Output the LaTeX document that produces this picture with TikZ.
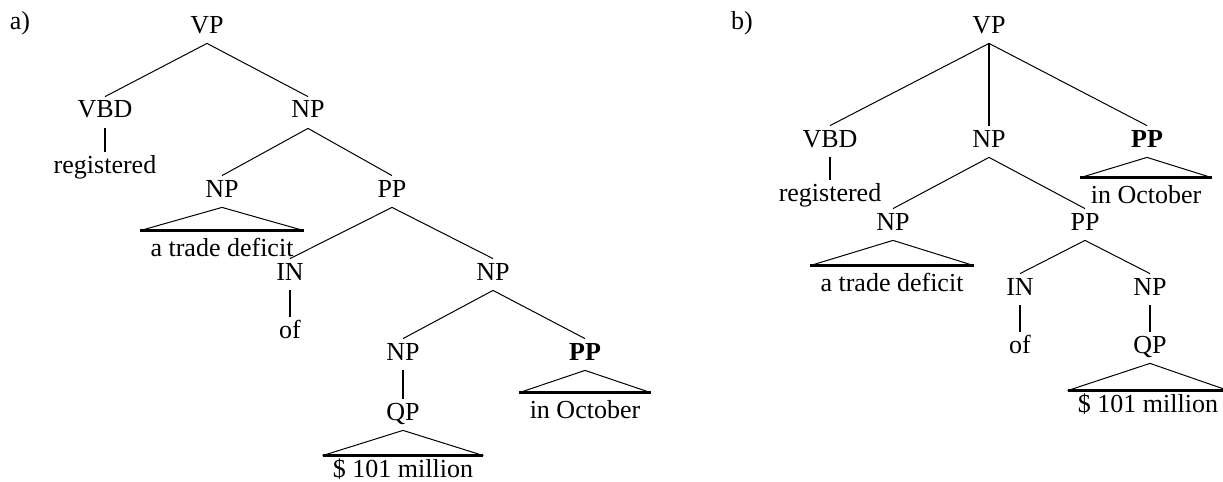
\documentclass[tikz,border=0pt]{standalone}
\usepackage{fontspec}
\setmainfont{Liberation Serif}
\begin{document}
\begin{tikzpicture}[x=0.5pt,y=-0.5pt,
  lbl/.style={font=\fontsize{13pt}{15pt}\selectfont, inner xsep=0pt, inner ysep=1.5pt,
              text height=9pt, text depth=3.5pt, anchor=base},
  leaf/.style={lbl, inner xsep=5pt, inner ysep=3.5pt},
  thinl/.style={line width=0.5pt},
  thickl/.style={line width=1.2pt}]
\useasboundingbox (0,0) rectangle (1223,482);
% ---------- tree a ----------
\node[lbl] (la) at (20,30) {a)};
\node[lbl] (avp) at (207,33) {VP};
\node[lbl] (avbd) at (105,118) {VBD};
\node[lbl] (anp) at (308,118) {NP};
\node[lbl] (areg) at (105,173) {registered};
\node[lbl] (anpb) at (222,197) {NP};
\node[lbl] (app) at (392,197) {PP};
\node[leaf] (atd) at (222,256) {a trade deficit};
\node[lbl] (ain) at (290,280) {IN};
\node[lbl] (anpc) at (493,280) {NP};
\node[lbl] (aof) at (290,338) {of};
\node[lbl] (anpd) at (403,360) {NP};
\node[lbl] (appb) at (585,360) {\textbf{PP}};
\node[lbl] (aqp) at (403,420) {QP};
\node[leaf] (aoct) at (585,418) {in October};
\node[leaf, inner ysep=1.5pt] (amil) at (403,477) {\$ 101 million};

\draw[thinl] (avp.south) -- (avbd.north);
\draw[thinl] (avp.south) -- (anp.north);
\draw[thickl] (avbd.south) -- (areg.north);
\draw[thinl] (anp.south) -- (anpb.north);
\draw[thinl] (anp.south) -- (app.north);
\draw[thinl] (atd.north west) -- (anpb.south) -- (atd.north east);
\draw[thickl] (atd.north west) -- (atd.north east);
\draw[thinl] (app.south) -- (ain.north);
\draw[thinl] (app.south) -- (anpc.north);
\draw[thickl] (ain.south) -- (aof.north);
\draw[thinl] (anpc.south) -- (anpd.north);
\draw[thinl] (anpc.south) -- (appb.north);
\draw[thickl] (anpd.south) -- (aqp.north);
\draw[thinl] (aoct.north west) -- (appb.south) -- (aoct.north east);
\draw[thickl] (aoct.north west) -- (aoct.north east);
\draw[thinl] (amil.north west) -- (aqp.south) -- (amil.north east);
\draw[thickl] (amil.north west) -- (amil.north east);

% ---------- tree b ----------
\node[lbl] (lb) at (742,30) {b)};
\node[lbl] (bvp) at (989,33) {VP};
\node[lbl] (bvbd) at (830,147) {VBD};
\node[lbl] (bnp) at (989,147) {NP};
\node[lbl] (bpp) at (1147,147) {\textbf{PP}};
\node[lbl] (breg) at (830,201) {registered};
\node[leaf] (boct) at (1146,203) {in October};
\node[lbl] (bnpb) at (893,230) {NP};
\node[lbl] (bppb) at (1085,230) {PP};
\node[leaf] (btd) at (892,291) {a trade deficit};
\node[lbl] (bin) at (1020,295) {IN};
\node[lbl] (bnpc) at (1150,295) {NP};
\node[lbl] (bof) at (1020,353) {of};
\node[lbl] (bqp) at (1150,353) {QP};
\node[leaf, inner ysep=1.5pt] (bmil) at (1148,412) {\$ 101 million};

\draw[thinl] (bvp.south) -- (bvbd.north);
\draw[thickl] (bvp.south) -- (bnp.north);
\draw[thinl] (bvp.south) -- (bpp.north);
\draw[thickl] (bvbd.south) -- (breg.north);
\draw[thinl] (boct.north west) -- (bpp.south) -- (boct.north east);
\draw[thickl] (boct.north west) -- (boct.north east);
\draw[thinl] (bnp.south) -- (bnpb.north);
\draw[thinl] (bnp.south) -- (bppb.north);
\draw[thinl] (btd.north west) -- (bnpb.south) -- (btd.north east);
\draw[thickl] (btd.north west) -- (btd.north east);
\draw[thinl] (bppb.south) -- (bin.north);
\draw[thinl] (bppb.south) -- (bnpc.north);
\draw[thickl] (bin.south) -- (bof.north);
\draw[thickl] (bnpc.south) -- (bqp.north);
\draw[thinl] (bmil.north west) -- (bqp.south) -- (bmil.north east);
\draw[thickl] (bmil.north west) -- (bmil.north east);
\end{tikzpicture}
\end{document}
